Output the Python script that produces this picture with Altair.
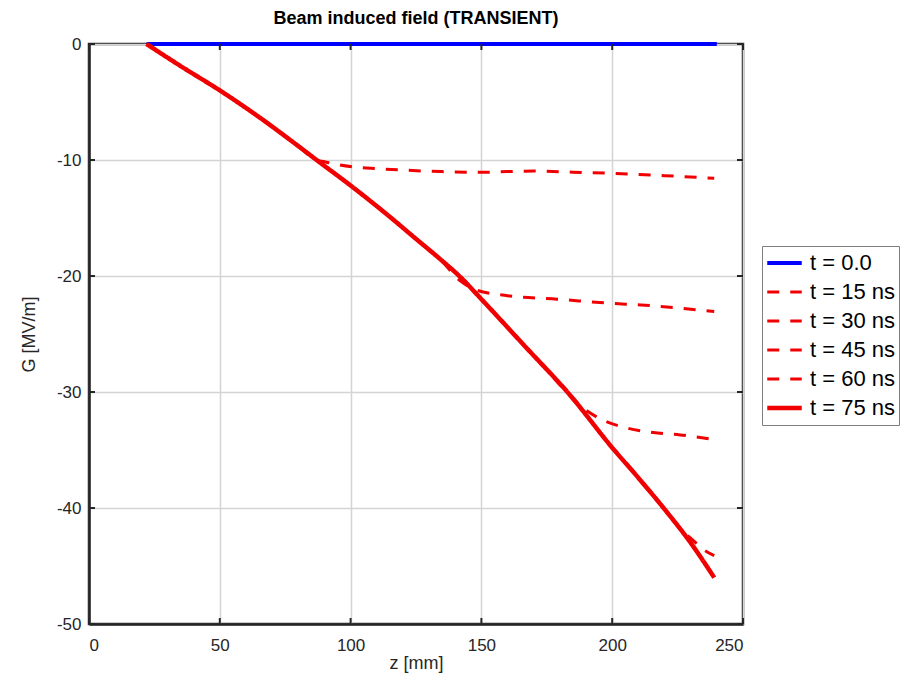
import altair as alt
import pandas as pd

labels = ["t = 0.0", "t = 15 ns", "t = 30 ns", "t = 45 ns", "t = 60 ns", "t = 75 ns"]
colors = ["#0000ff", "#f00000", "#f00000", "#f00000", "#f00000", "#f00000"]
dashes = [[1, 0], [12, 11], [12, 11], [12, 11], [12, 11], [1, 0]]
widths = [4, 3, 3, 3, 3, 4.5]

z0 = [22, 240]
g0 = [0, 0]

z15 = [22, 35, 50, 65, 80, 87, 90, 95, 101, 110, 119, 135, 150, 160, 170, 185, 200, 220, 239]
g15 = [0, -1.9, -4.0, -6.3, -8.8, -10.0, -10.15, -10.4, -10.6, -10.75, -10.86, -11.0, -11.06, -11.0, -10.95, -11.05, -11.15, -11.35, -11.58]

z30 = [22, 35, 50, 65, 80, 87, 100, 115, 125, 134, 141.8, 148, 160, 179, 200, 211, 225, 239]
g30 = [0, -1.9, -4.0, -6.3, -8.8, -10.0, -12.2, -14.9, -16.8, -18.5, -20.4, -21.2, -21.7, -22.0, -22.36, -22.5, -22.75, -23.07]

z45 = [22, 35, 50, 65, 80, 87, 100, 115, 125, 134, 142, 150, 166, 184, 188, 195.3, 205.5, 215.7, 226, 239]
g45 = [0, -1.9, -4.0, -6.3, -8.8, -10.0, -12.2, -14.9, -16.8, -18.5, -20.1, -22.0, -25.9, -30.3, -31.2, -32.3, -33.1, -33.5, -33.7, -34.1]

z60 = [22, 35, 50, 65, 80, 87, 100, 115, 125, 134, 142, 150, 166, 184, 200, 210, 220, 226, 230, 235, 239]
g60 = [0, -1.9, -4.0, -6.3, -8.8, -10.0, -12.2, -14.9, -16.8, -18.5, -20.1, -22.0, -25.9, -30.3, -34.8, -37.4, -40.1, -41.8, -42.6, -43.6, -44.1]

z75 = [22, 35, 50, 65, 80, 87, 100, 115, 125, 134, 142, 150, 166, 184, 200, 210, 220, 230, 239]
g75 = [0, -1.9, -4.0, -6.3, -8.8, -10.0, -12.2, -14.9, -16.8, -18.5, -20.1, -22.0, -25.9, -30.3, -34.8, -37.4, -40.1, -43.0, -46.0]

series = [(z0, g0), (z15, g15), (z30, g30), (z45, g45), (z60, g60), (z75, g75)]
rows = []
for lab, (zs, gs) in zip(labels, series):
    for z, g in zip(zs, gs):
        rows.append({"z": z, "G": g, "series": lab})
df = pd.DataFrame(rows)

x_ticks = [0, 50, 100, 150, 200, 250]
y_ticks = [-50, -40, -30, -20, -10, 0]

FONT = "Liberation Sans"
DARK = "#262626"
W, H = 654, 580

legend = alt.Legend(
    title=None, orient="none", legendX=673, legendY=202,
    symbolType="stroke", symbolSize=1190, labelFontSize=22, labelFont=FONT,
    labelColor="#000000", rowPadding=1, labelOffset=6, clipHeight=28,
    strokeColor="#7f7f7f", fillColor="#ffffff", padding=3,
)

xs = alt.Scale(domain=[0, 250], nice=False)
ys = alt.Scale(domain=[-50, 0], nice=False)
x_axis = alt.Axis(values=x_ticks, title="z [mm]", labelExpr="'' + datum.value")
y_axis = alt.Axis(values=y_ticks, title="G [MV/m]", labelExpr="'' + datum.value")

lines = alt.Chart(df).mark_line(interpolate="monotone", strokeCap="butt").encode(
    x=alt.X("z:Q", scale=xs, axis=x_axis),
    y=alt.Y("G:Q", scale=ys, axis=y_axis),
    color=alt.Color("series:N", scale=alt.Scale(domain=labels, range=colors), legend=legend),
    strokeDash=alt.StrokeDash("series:N", scale=alt.Scale(domain=labels, range=dashes), legend=legend),
    strokeWidth=alt.StrokeWidth("series:N", scale=alt.Scale(type="ordinal", domain=labels, range=widths), legend=legend),
)

ydf = pd.DataFrame({"v": y_ticks})
xdf = pd.DataFrame({"v": x_ticks})
tick_style = dict(color=DARK, strokeWidth=2)
yl = alt.Chart(ydf).mark_rule(**tick_style).encode(
    y=alt.Y("v:Q", scale=ys, axis=y_axis), x=alt.value(0), x2=alt.value(6))
yr = alt.Chart(ydf).mark_rule(**tick_style).encode(
    y=alt.Y("v:Q", scale=ys, axis=y_axis), x=alt.value(W - 6), x2=alt.value(W))
xb = alt.Chart(xdf).mark_rule(**tick_style).encode(
    x=alt.X("v:Q", scale=xs, axis=x_axis), y=alt.value(H - 6), y2=alt.value(H))
xt = alt.Chart(xdf).mark_rule(**tick_style).encode(
    x=alt.X("v:Q", scale=xs, axis=x_axis), y=alt.value(0), y2=alt.value(6))

chart = alt.layer(lines, yl, yr, xb, xt).properties(
    width=W, height=H,
    title=alt.TitleParams("Beam induced field (TRANSIENT)", fontSize=18, font=FONT,
                          fontWeight="bold", offset=7, anchor="middle", color="#000000"),
    autosize=alt.AutoSizeParams(type="none"),
    padding={"left": 81, "top": 36, "right": 157, "bottom": 52},
).configure_view(
    stroke=DARK, strokeWidth=2.5
).configure_axis(
    labelFont=FONT, titleFont=FONT, labelFontSize=17, titleFontSize=18,
    labelColor=DARK, titleColor=DARK, titleFontWeight="normal",
    grid=True, gridColor="#d4d4d4", gridWidth=1.5,
    domainColor=DARK, domainWidth=2.5, tickColor=DARK, tickSize=0,
).configure_axisX(
    labelPadding=13, titlePadding=1,
).configure_axisY(
    labelPadding=8, titlePadding=18,
)

chart.save("out.html", embed_options={"renderer": "svg", "actions": False})
